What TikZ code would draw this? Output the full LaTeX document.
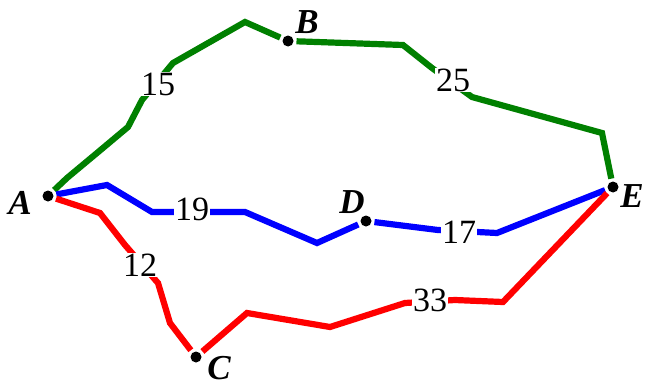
\documentclass[tikz,border=0pt]{standalone}
\usepackage{fontspec}
\setmainfont{Liberation Serif}
\definecolor{grn}{RGB}{0,128,0}
\definecolor{blu}{RGB}{0,0,255}
\definecolor{rd}{RGB}{255,0,0}
\begin{document}
\begin{tikzpicture}[x=1pt,y=-1pt,
  edge/.style={line width=6.2pt},
  dot/.style={circle,fill=black,inner sep=0pt,minimum size=11pt,outer sep=3pt},
  num/.style={fill=white,inner sep=1pt,font=\fontsize{34}{34}\selectfont},
  lbl/.style={inner sep=1pt,font=\fontsize{35}{35}\selectfont\bfseries\itshape}]
\useasboundingbox (0,0) rectangle (646,388);
% vertices
\node[dot] (A) at (48,196) {};
\node[dot] (B) at (288,41) {};
\node[dot] (C) at (196,357) {};
\node[dot] (D) at (366,221) {};
\node[dot] (E) at (613,187) {};
% edges
\draw[edge,grn] (A) -- (67,178) -- (97,153) -- (128,127) -- (142,100) -- (173,63) -- (245,22) -- (B);
\draw[edge,grn] (B) -- (403,45) -- (432,68) -- (472,97) -- (602,133) -- (E);
\draw[edge,blu] (A) -- (107,185) -- (152,212) -- (245,212) -- (317,243) -- (D);
\draw[edge,blu] (D) -- (438,230) -- (497,233) -- (E);
\draw[edge,rd] (A) -- (100,213) -- (125,245) -- (158,283) -- (170,323) -- (C);
\draw[edge,rd] (C) -- (247,313) -- (330,327) -- (405,303) -- (455,300) -- (503,302) -- (E);
% weights
\node[num] (w15) at (158,84) {15};
\node[num] (w25) at (453,80) {25};
\node[num] (w19) at (192,209) {19};
\node[num] (w17) at (459,232) {17};
\node[num] (w12) at (140,265) {12};
\node[num] (w33) at (430,300) {33};
% names
\node[lbl] (lA) at (20,203) {A};
\node[lbl] (lB) at (307,22) {B};
\node[lbl] (lC) at (219,368) {C};
\node[lbl] (lD) at (352,202) {D};
\node[lbl] (lE) at (632,196) {E};
\end{tikzpicture}
\end{document}
